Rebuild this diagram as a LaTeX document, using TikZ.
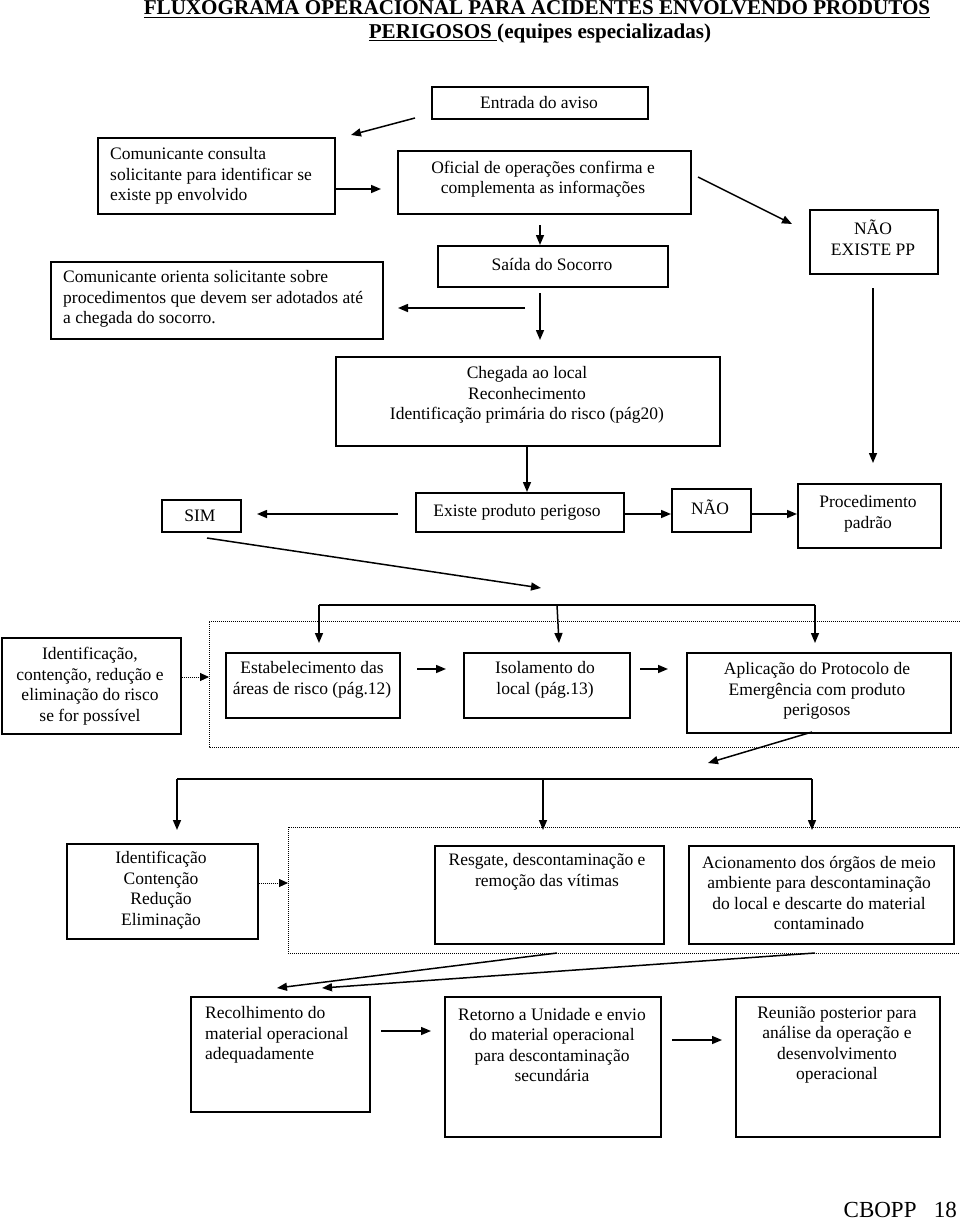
\documentclass[tikz,border=0pt]{standalone}
\usepackage{fontspec}
\setmainfont{Liberation Serif}
\usetikzlibrary{arrows.meta,calc}
\tikzset{
  box/.style={draw, line width=1.7pt, inner sep=0pt, anchor=north west},
  txt/.style={inner sep=0pt, font=\fontsize{17.5}{20.5}\selectfont, align=center},
  ltxt/.style={txt, align=left},
  arr/.style={line width=1.5pt, -{Triangle[length=10pt,width=8pt]}},
  plain/.style={line width=1.5pt},
  dotline/.style={line width=0.9pt, dash pattern=on 1pt off 1pt},
  dotarr/.style={dotline, -{Triangle[length=9pt,width=8pt]}},
}
\begin{document}
\begin{tikzpicture}[x=1pt,y=-1pt]
\useasboundingbox (0,0) rectangle (960,1220);

% title
\node[inner sep=0pt, anchor=base, font=\fontsize{21.1}{24}\selectfont\bfseries] (t1) at (537,15)
  {\underline{FLUXOGRAMA OPERACIONAL PARA ACIDENTES ENVOLVENDO PRODUTOS}};
\node[inner sep=0pt, anchor=base, font=\fontsize{21.1}{24}\selectfont\bfseries] (t2) at (540,39)
  {\underline{PERIGOSOS\ }(equipes especializadas)};

% boxes
\node[box, minimum width=216pt, minimum height=32pt] (ent) at (431,86) {};
\node[txt] (ent-t) at (539,103) {Entrada do aviso};

\node[box, minimum width=237pt, minimum height=76pt] (cons) at (97,137) {};
\node[ltxt, anchor=west] (cons-t) at (110,176) {Comunicante consulta\\solicitante para identificar se\\existe pp envolvido};

\node[box, minimum width=293pt, minimum height=63pt] (ofi) at (397,150) {};
\node[txt] (ofi-t) at (543,179) {Oficial de operações confirma e\\complementa as informações};

\node[box, minimum width=128pt, minimum height=64pt] (nao1) at (809,209) {};
\node[txt] (nao1-t) at (873,238) {NÃO\\EXISTE PP};

\node[box, minimum width=230pt, minimum height=41pt] (sai) at (437,245) {};
\node[txt] (sai-t) at (552,264) {Saída do Socorro};

\node[box, minimum width=332pt, minimum height=77pt] (ori) at (50,261) {};
\node[ltxt, anchor=west] (ori-t) at (63,299) {Comunicante orienta solicitante sobre\\procedimentos que devem ser adotados até\\a chegada do socorro.};

\node[box, minimum width=384pt, minimum height=89pt] (che) at (335,356) {};
\node[txt] (che-t) at (527,395) {Chegada ao local\\Reconhecimento\\Identificação primária do risco (pág20)};

\node[box, minimum width=208pt, minimum height=39pt] (exi) at (415,492) {};
\node[txt] (exi-t) at (517,512) {Existe produto perigoso};

\node[box, minimum width=79pt, minimum height=32pt] (sim) at (161,499) {};
\node[txt] (sim-t) at (200,516) {SIM};

\node[box, minimum width=79pt, minimum height=43pt] (nao2) at (671,488) {};
\node[txt] (nao2-t) at (710,507) {NÃO};

\node[box, minimum width=143pt, minimum height=64pt] (proc) at (797,483) {};
\node[txt] (proc-t) at (868,514) {Procedimento\\padrão};

% dotted frame 1
\draw[dotline] (960,621) -- (209,621) -- (209,747) -- (960,747);

\node[box, minimum width=179pt, minimum height=96pt] (id1) at (1,637) {};
\node[txt] (id1-t) at (90,686) {Identificação,\\contenção, redução e\\eliminação do risco\\se for possível};

\node[box, minimum width=174pt, minimum height=65pt] (est) at (225,652) {};
\node[txt] (est-t) at (312,680) {Estabelecimento das\\áreas de risco (pág.12)};

\node[box, minimum width=166pt, minimum height=65pt] (iso) at (463,652) {};
\node[txt] (iso-t) at (545,680) {Isolamento do\\local (pág.13)};

\node[box, minimum width=264pt, minimum height=80pt] (apl) at (686,652) {};
\node[txt] (apl-t) at (817,691) {Aplicação do Protocolo de\\Emergência com produto\\perigosos};

% dotted frame 2
\draw[dotline] (960,827) -- (288,827) -- (288,953) -- (960,953);

\node[box, minimum width=191pt, minimum height=95pt] (id2) at (66,843) {};
\node[txt] (id2-t) at (161,890) {Identificação\\Contenção\\Redução\\Eliminação};

\node[box, minimum width=229pt, minimum height=98pt] (res) at (434,845) {};
\node[txt] (res-t) at (547,872) {Resgate, descontaminação e\\remoção das vítimas};

\node[box, minimum width=265pt, minimum height=98pt] (aci) at (688,845) {};
\node[txt] (aci-t) at (819,893) {Acionamento dos órgãos de meio\\ambiente para descontaminação\\do local e descarte do material\\contaminado};

\node[box, minimum width=179pt, minimum height=115pt] (rec) at (190,996) {};
\node[ltxt, anchor=west] (rec-t) at (205,1035) {Recolhimento do\\material operacional\\adequadamente};

\node[box, minimum width=216pt, minimum height=140pt] (ret) at (444,996) {};
\node[txt] (ret-t) at (552,1045) {Retorno a Unidade e envio\\do material operacional\\para descontaminação\\secundária};

\node[box, minimum width=204pt, minimum height=140pt] (reu) at (735,996) {};
\node[txt] (reu-t) at (837,1045) {Reunião posterior para\\análise da operação e\\desenvolvimento\\operacional};

\node[inner sep=0pt, anchor=base east, font=\fontsize{23}{26}\selectfont] (pg) at (957,1217) {CBOPP\hspace{0.5em} 18};

% connector end points
\coordinate (c1a) at (415,118);  \coordinate (c1b) at (351,135);
\coordinate (c2b) at (381,189);
\coordinate (c3a) at (698,177);  \coordinate (c3b) at (792,224);
\coordinate (c4a) at (873,288);  \coordinate (c4b) at (873,463);
\coordinate (c5a) at (540,225);
\coordinate (c6a) at (540,293);  \coordinate (c6b) at (540,340);
\coordinate (c7a) at (525,308);  \coordinate (c7b) at (398,308);
\coordinate (c9a) at (398,514);  \coordinate (c9b) at (257,514);
\coordinate (c12a) at (207,538); \coordinate (c12b) at (541,588);
\coordinate (b1l) at (319,605);  \coordinate (b1m) at (557,605); \coordinate (b1r) at (815,605);
\coordinate (b1lt) at (319,643); \coordinate (b1mt) at (559,643); \coordinate (b1rt) at (815,643);
\coordinate (c15a) at (417,669); \coordinate (c15b) at (446,669);
\coordinate (c16a) at (640,669); \coordinate (c16b) at (668,669);
\coordinate (c17a) at (812,732); \coordinate (c17b) at (708,763);
\coordinate (b2l) at (177,779);  \coordinate (b2m) at (543,779); \coordinate (b2r) at (812,779);
\coordinate (b2lt) at (177,830); \coordinate (b2mt) at (543,830); \coordinate (b2rt) at (812,830);
\coordinate (c20a) at (557,953); \coordinate (c20b) at (277,988);
\coordinate (c21a) at (815,953); \coordinate (c21b) at (322,988);
\coordinate (c22a) at (381,1031); \coordinate (c22b) at (431,1031);
\coordinate (c23a) at (672,1040); \coordinate (c23b) at (722,1040);

% connectors
\draw[arr] (c1a) -- (c1b);
\draw[arr] (cons.east |- c2b) -- (c2b);
\draw[arr] (c3a) -- (c3b);
\draw[arr] (c4a) -- (c4b);
\draw[arr] (c5a) -- (c5a |- sai.north);
\draw[arr] (c6a) -- (c6b);
\draw[arr] (c7a) -- (c7b);
\draw[arr] (che.south -| 527,0) -- (exi.north -| 527,0);
\draw[arr] (c9a) -- (c9b);
\draw[arr] (exi.east |- 0,514) -- (nao2.west |- 0,514);
\draw[arr] (nao2.east |- 0,514) -- (proc.west |- 0,514);
\draw[arr] (c12a) -- (c12b);

\draw[plain] (b1l) -- (b1r);
\draw[arr] (b1l) -- (b1lt);
\draw[arr] (b1m) -- (b1mt);
\draw[arr] (b1r) -- (b1rt);
\draw[dotarr] (id1.east |- 0,677) -- (209,677);
\draw[arr] (c15a) -- (c15b);
\draw[arr] (c16a) -- (c16b);
\draw[arr] (c17a) -- (c17b);

\draw[plain] (b2l) -- (b2r);
\draw[arr] (b2l) -- (b2lt);
\draw[arr] (b2m) -- (b2mt);
\draw[arr] (b2r) -- (b2rt);
\draw[dotarr] (id2.east |- 0,883) -- (288,883);
\draw[arr] (c20a) -- (c20b);
\draw[arr] (c21a) -- (c21b);
\draw[arr] (c22a) -- (c22b);
\draw[arr] (c23a) -- (c23b);
\end{tikzpicture}
\end{document}
